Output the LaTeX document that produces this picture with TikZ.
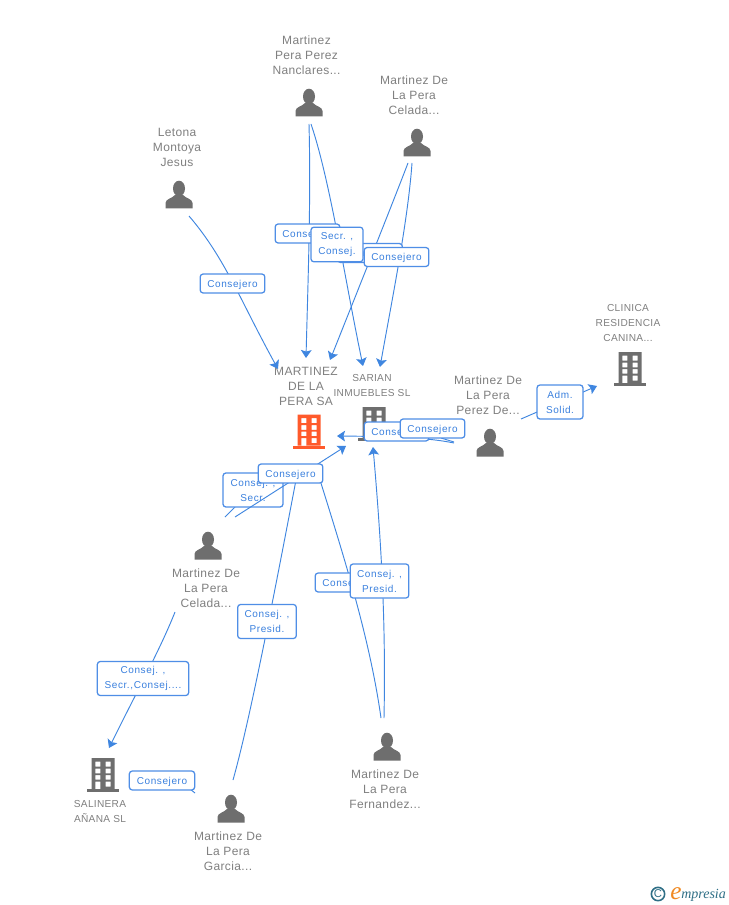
\documentclass[tikz,border=0pt]{standalone}
\usepackage{fontspec}
\setmainfont{Liberation Sans}
\newfontfamily\namefont[LetterSpace=3]{Liberation Sans}
\newfontfamily\lblfont[LetterSpace=6]{Liberation Sans}
\newfontfamily\logofont{Liberation Serif}
\usetikzlibrary{arrows.meta}
\definecolor{linkblue}{HTML}{3F86E0}
\definecolor{boxblue}{HTML}{4F8EE6}
\definecolor{lbltext}{HTML}{3A80DE}
\definecolor{nametext}{HTML}{808080}
\definecolor{iconcol}{HTML}{6E6E6E}
\definecolor{hotcol}{HTML}{FF5A2B}
\definecolor{logoteal}{HTML}{2F6F86}
\definecolor{logoorange}{HTML}{F08A24}
\tikzset{
  x=0.75pt,y=-0.75pt,
  link/.style={draw=linkblue,line width=0.7pt},
  arrowlink/.style={link,-{Stealth[length=6pt,width=8pt,inset=1.2pt]}},
  rolebox/.style={draw=boxblue,line width=0.95pt,rounded corners=2.2pt,fill=white,text=lbltext,
    font=\lblfont\fontsize{7.5}{11.25}\selectfont,align=center,inner sep=0pt,
    execute at begin node={\rule{0pt}{7.4pt}}},
  personlabel/.style={text=nametext,font=\namefont\fontsize{9}{11.25}\selectfont,align=center,inner sep=0pt},
  bizlabel/.style={text=nametext,font=\namefont\fontsize{7.6}{11.25}\selectfont,align=center,inner sep=0pt},
  pics/personicon/.style={code={
    \fill[iconcol] (0,-6.5) ellipse [x radius=6,y radius=7.8];
    \fill[iconcol] (-13.5,13.5) -- (-13.5,8) .. controls (-13.5,4) and (-7,3.5) .. (-4,0) -- (4,0)
      .. controls (7,3.5) and (13.5,4) .. (13.5,8) -- (13.5,13.5) -- cycle;
  }},
  pics/towericon/.style={code={
    \fill[#1,even odd rule] (-11.5,-17) rectangle (11.5,14)
      (-7.6,-13.3) rectangle (-2.6,-8.3) (2.6,-13.3) rectangle (7.6,-8.3)
      (-7.6,-6.5) rectangle (-2.6,-1.7) (2.6,-6.5) rectangle (7.6,-1.7)
      (-7.6,0) rectangle (-2.6,4.5) (2.6,0) rectangle (7.6,4.5)
      (-7.6,6.5) rectangle (-2.6,14) (2.6,6.5) rectangle (7.6,11.7);
    \fill[#1] (-16,14) rectangle (16,17);
  }}
}
\begin{document}
\begin{tikzpicture}
\path[use as bounding box,fill=white] (0,0) rectangle (728,905);

% icons
\pic at (309,103) {personicon};
\pic at (417,143) {personicon};
\pic at (179,195) {personicon};
\pic at (490,443) {personicon};
\pic at (208,546) {personicon};
\pic at (387,747) {personicon};
\pic at (231,809) {personicon};
\pic at (309,431.5) {towericon=hotcol};
\pic at (374,424) {towericon=iconcol};
\pic at (630,369) {towericon=iconcol};
\pic at (103,775) {towericon=iconcol};

% texts
\node[personlabel] (nPeraPerez) at (306.5,55) {Martinez\\Pera Perez\\Nanclares...};
\node[personlabel] (nCeladaTop) at (414,95) {Martinez De\\La Pera\\Celada...};
\node[personlabel] (nLetona) at (177,147) {Letona\\Montoya\\Jesus};
\node[personlabel] (nMartinezSA) at (306,386) {MARTINEZ\\DE LA\\PERA SA};
\node[bizlabel] (nSarian) at (372,386) {SARIAN\\INMUEBLES SL};
\node[bizlabel] (nClinica) at (628,323) {CLINICA\\RESIDENCIA\\CANINA...};
\node[personlabel] (nPerezDe) at (488,395) {Martinez De\\La Pera\\Perez De...};
\node[personlabel] (nCeladaLow) at (206,588) {Martinez De\\La Pera\\Celada...};
\node[personlabel] (nFernandez) at (385,789) {Martinez De\\La Pera\\Fernandez...};
\node[personlabel] (nGarcia) at (228,851) {Martinez De\\La Pera\\Garcia...};
\node[bizlabel] (nSalinera) at (100,812) {SALINERA\\AÑANA SL};

% connector ends
\coordinate (fLetona) at (189,216);
\coordinate (tLetona) at (278,369);
\coordinate (fPeraA) at (309,124);
\coordinate (tPeraA) at (306,358);
\coordinate (fPeraB) at (311,124);
\coordinate (tPeraB) at (363,366);
\coordinate (fCelA) at (408,163);
\coordinate (tCelA) at (330,360);
\coordinate (fCelB) at (412,163);
\coordinate (tCelB) at (380,367);
\coordinate (fPerezA) at (521,419);
\coordinate (tPerezA) at (597,386);
\coordinate (fPerezB) at (454,443);
\coordinate (tPerezB) at (337,436);
\coordinate (fPerezC) at (441,438);
\coordinate (tPerezC) at (454,442);
\coordinate (fFerA) at (384,718);
\coordinate (tFerA) at (373,447);
\coordinate (fFerB) at (381,718);
\coordinate (tFerB) at (320,480);
\coordinate (fGar) at (233,780);
\coordinate (tGar) at (296,480);
\coordinate (fCelC) at (235,517);
\coordinate (tCelC) at (346,446);
\coordinate (fCelD) at (225,517);
\coordinate (tCelD) at (245,497);
\coordinate (fCelE) at (175,612);
\coordinate (tCelE) at (109,748);
\coordinate (fGarB) at (190,789);
\coordinate (tGarB) at (195,793);

% connectors under the boxes
\draw[arrowlink] (fLetona) .. controls (225,258) and (240,300) .. (tLetona);
\draw[arrowlink] (fPeraA) .. controls (311,200) and (308,280) .. (tPeraA);
\draw[arrowlink] (fPeraB) .. controls (330,180) and (345,280) .. (tPeraB);
\draw[arrowlink] (fCelA) .. controls (395,197) and (362,280) .. (tCelA);
\draw[arrowlink] (fCelB) .. controls (408,220) and (392,300) .. (tCelB);
\draw[arrowlink] (fPerezA) -- (tPerezA);
\draw[arrowlink] (fPerezB) .. controls (425,437) and (385,436.5) .. (tPerezB);
\draw[link] (fPerezC) -- (tPerezC);
\draw[arrowlink] (fFerA) .. controls (386,620) and (381,540) .. (tFerA);
\draw[link] (fFerB) .. controls (370,640) and (345,560) .. (tFerB);
\draw[link] (fGar) .. controls (250,720) and (275,590) .. (tGar);
\draw[link] (fCelD) -- (tCelD);
\draw[arrowlink] (fCelE) .. controls (160,650) and (135,695) .. (tCelE);
\draw[link] (fGarB) -- (tGarB);

% role boxes
\node[rolebox,minimum width=48.5pt,minimum height=14.2pt] (rLetona) at (232.5,283.5) {Consejero};
\node[rolebox,minimum width=48.5pt,minimum height=14.2pt] (rPeraA) at (307.5,233.5) {Consejero};
\node[rolebox,minimum width=48.5pt,minimum height=14.2pt] (rCelA) at (370,253) {Consejero};
\node[rolebox,minimum width=39pt,minimum height=26pt] (rPeraB) at (337,244.5) {Secr. ,\\Consej.};
\node[rolebox,minimum width=48.5pt,minimum height=14.2pt] (rCelB) at (396.5,257) {Consejero};
\node[rolebox,minimum width=34.5pt,minimum height=25.5pt] (rAdm) at (560,402) {Adm.\\Solid.};
\node[rolebox,minimum width=48.5pt,minimum height=14.2pt] (rPerezB) at (396.5,431.5) {Consejero};
\node[rolebox,minimum width=48.5pt,minimum height=14.2pt] (rPerezC) at (432.5,428.5) {Consejero};
\node[rolebox,minimum width=45pt,minimum height=25.5pt] (rCelD) at (253,490) {Consej. ,\\Secr.};
% this connector crosses the box below it
\draw[arrowlink] (fCelC) -- (tCelC);
\node[rolebox,minimum width=48.5pt,minimum height=14.2pt] (rCelC) at (290.5,473.5) {Consejero};
\node[rolebox,minimum width=48.5pt,minimum height=14.2pt] (rFerB) at (347.5,582.5) {Consejero};
\node[rolebox,minimum width=44pt,minimum height=25.5pt] (rFerA) at (379.5,581) {Consej. ,\\Presid.};
\node[rolebox,minimum width=44pt,minimum height=25.5pt] (rGar) at (267,621.5) {Consej. ,\\Presid.};
\node[rolebox,minimum width=68.5pt,minimum height=25.5pt] (rCelE) at (143,678.5) {Consej. ,\\Secr.,Consej....};
\node[rolebox,minimum width=49pt,minimum height=14.2pt] (rGarB) at (162,780.5) {Consejero};

% logo
\node[circle,draw=logoteal,line width=1.2pt,text=logoteal,inner sep=0pt,minimum size=10pt,
  font=\fontsize{8.5}{8.5}\selectfont] (logoC) at (658,894) {C};
\node[anchor=base west,inner sep=0pt,text=logoorange,font=\logofont\itshape\fontsize{19}{19}\selectfont] (logoE) at (670,899) {e};
\node[anchor=base west,inner sep=0pt,text=logoteal,font=\logofont\itshape\fontsize{10.5}{10.5}\selectfont] (logoT) at (681,898) {mpresia};
\end{tikzpicture}
\end{document}
